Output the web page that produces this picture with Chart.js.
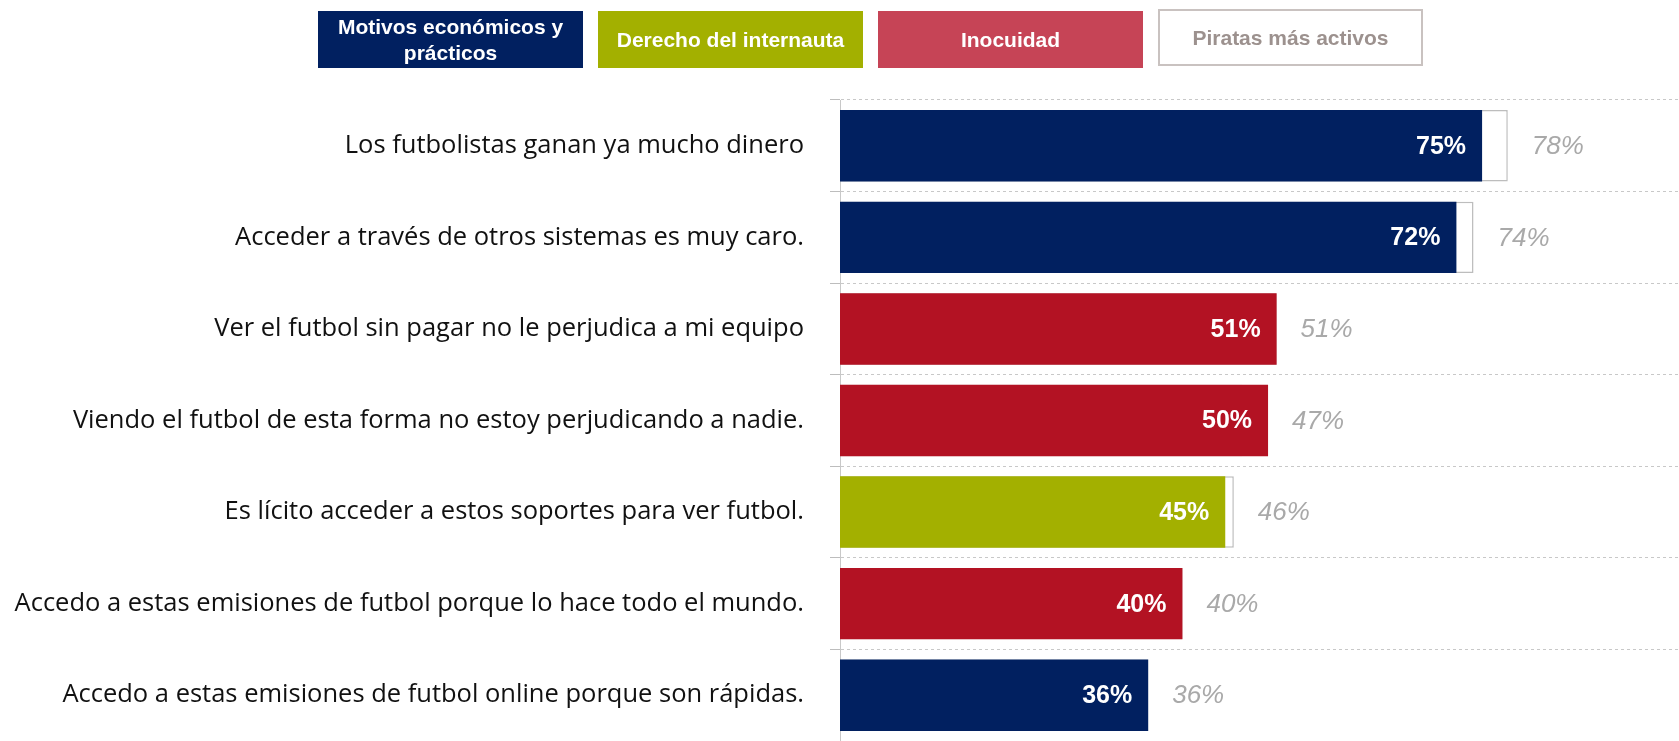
<!DOCTYPE html>
<html>
<head>
<meta charset="utf-8">
<script src="https://cdn.jsdelivr.net/npm/chart.js@4"></script>
<style>
  body { margin: 0; background: #fff; overflow: hidden; }
  #wrap { position: relative; width: 1679px; height: 741px; }
  #chart { position: absolute; left: 0; top: 0; }
  #legend { position: absolute; left: 0; top: 0; width: 100%; height: 80px; z-index: 2; }
  .key {
    position: absolute; top: 11px; width: 265px; height: 57px;
    display: flex; align-items: center; justify-content: center; text-align: center;
    font: bold 21px "Liberation Sans", Arial, sans-serif; line-height: 26px;
    color: #fff; box-sizing: border-box; padding: 0 8px;
  }
  .key.outline { top: 9px; background: #fff; border: 2px solid #c9c2c0; color: #9c918e; }
</style>
</head>
<body>
<div id="wrap">
  <canvas id="chart" width="1679" height="741"></canvas>
  <div id="legend"></div>
</div>
<script>
// statements, top to bottom
const categories = [
  'Los futbolistas ganan ya mucho dinero',
  'Acceder a través de otros sistemas es muy caro.',
  'Ver el futbol sin pagar no le perjudica a mi equipo',
  'Viendo el futbol de esta forma no estoy perjudicando a nadie.',
  'Es lícito acceder a estos soportes para ver futbol.',
  'Accedo a estas emisiones de futbol porque lo hace todo el mundo.',
  'Accedo a estas emisiones de futbol online porque son rápidas.'
];
const totalValues = [75, 72, 51, 50, 45, 40, 36];
const pirateValues = [78, 74, 51, 47, 46, 40, 36];
const groupOf = ['eco', 'eco', 'ino', 'ino', 'der', 'ino', 'eco'];

const groupNames = ['Motivos económicos y prácticos', 'Derecho del internauta', 'Inocuidad', 'Piratas más activos'];

const barColors = { eco: '#012060', der: '#a3b000', ino: '#b31223' };
const keyColors = ['#012060', '#a3b000', '#c64456', null];

// html legend boxes
const legend = document.getElementById('legend');
groupNames.forEach((name, i) => {
  const d = document.createElement('div');
  d.className = 'key' + (keyColors[i] ? '' : ' outline');
  d.style.left = (318 + i * 280) + 'px';
  if (keyColors[i]) d.style.background = keyColors[i];
  d.textContent = name;
  legend.appendChild(d);
});

// value labels: white inside the bar, grey italic after the bars
const valueLabels = {
  id: 'valueLabels',
  afterDatasetsDraw(chart) {
    const ctx = chart.ctx;
    const main = chart.getDatasetMeta(0).data;
    const pir = chart.getDatasetMeta(1).data;
    ctx.save();
    ctx.textBaseline = 'middle';
    main.forEach((bar, i) => {
      ctx.font = 'bold 25px "Liberation Sans", Arial, sans-serif';
      ctx.fillStyle = '#fff';
      ctx.textAlign = 'right';
      ctx.fillText(totalValues[i] + '%', bar.x - 16, bar.y + 1);
      const end = Math.max(bar.x, pir[i].x);
      ctx.font = 'italic 26px "Liberation Sans", Arial, sans-serif';
      ctx.fillStyle = '#a9a9a9';
      ctx.textAlign = 'left';
      ctx.fillText(pirateValues[i] + '%', end + 24, bar.y + 1);
    });
    ctx.restore();
  }
};

new Chart(document.getElementById('chart'), {
  type: 'bar',
  data: {
    labels: categories,
    datasets: [
      {
        label: 'Total',
        data: totalValues,
        backgroundColor: groupOf.map(g => barColors[g]),
        borderWidth: 0,
        grouped: false,
        categoryPercentage: 1,
        barPercentage: 0.78
      },
      {
        label: groupNames[3],
        data: pirateValues,
        backgroundColor: '#fff',
        borderColor: '#bdbdbd',
        borderWidth: 1.5,
        borderSkipped: 'left',
        grouped: false,
        categoryPercentage: 1,
        barPercentage: 0.78
      }
    ]
  },
  options: {
    indexAxis: 'y',
    responsive: false,
    animation: false,
    layout: { padding: { top: 100, left: 0, right: 0, bottom: 0 } },
    plugins: {
      legend: { display: false },
      tooltip: { enabled: false }
    },
    scales: {
      x: {
        display: false,
        min: 0,
        max: 98
      },
      y: {
        afterFit(scale) {
          scale.width = 840;
          // let the plot run to the bottom edge
          scale.paddingTop = 0;
          scale.paddingBottom = 0;
        },
        grid: {
          color: '#c8c8c8',
          lineWidth: 1,
          tickLength: 10,
          tickColor: '#bdbdbd',
          tickBorderDash: []
        },
        border: { display: true, color: '#c8c8c8', dash: [3, 3] },
        ticks: {
          color: '#111',
          padding: 26,
          font: { family: 'Open Sans', size: 25.5 }
        }
      }
    }
  },
  plugins: [valueLabels]
});
</script>
</body>
</html>
